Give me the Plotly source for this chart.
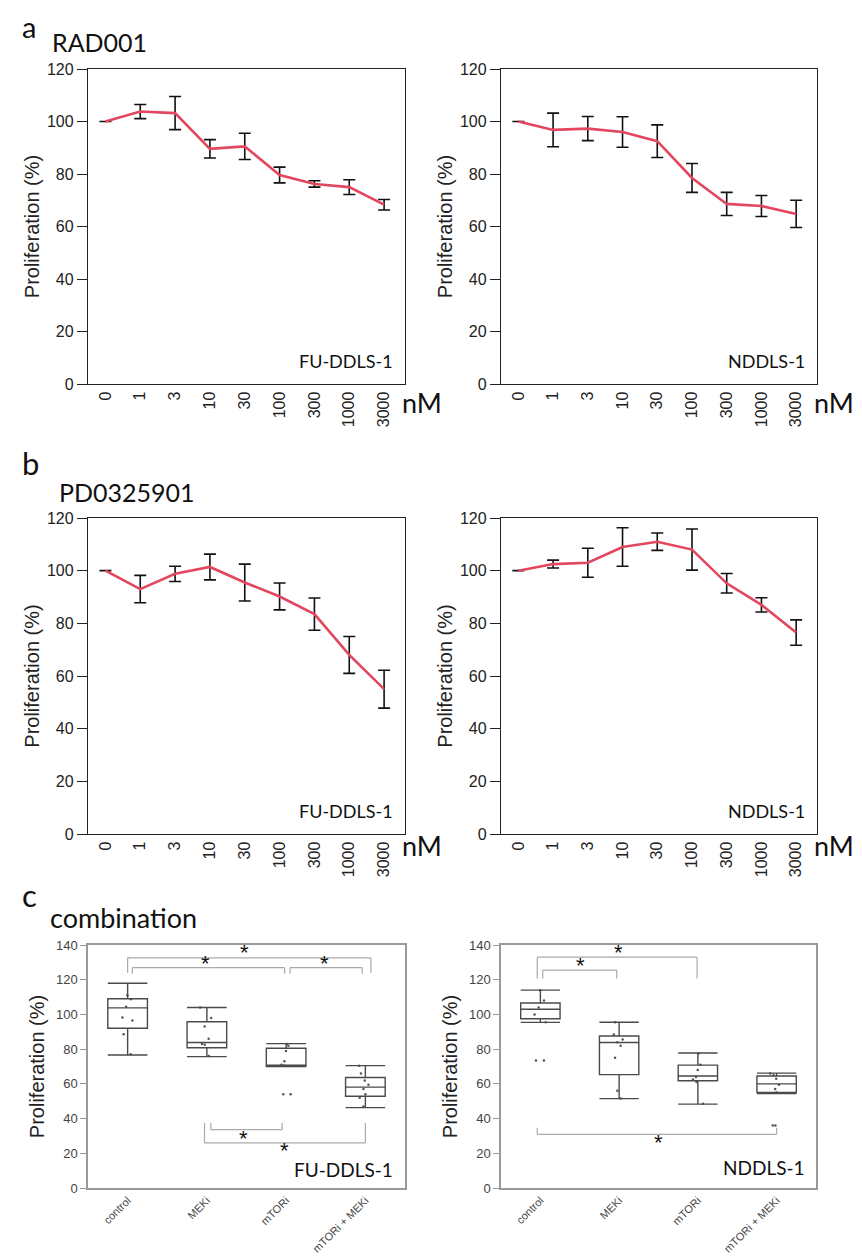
import plotly.graph_objects as go

# ---------------- data ----------------
doses = ["0", "1", "3", "10", "30", "100", "300", "1000", "3000"]

rad_fu_mean = [100, 103.8, 103.2, 89.6, 90.5, 79.6, 76.2, 75.0, 68.3]
rad_fu_err = [0, 2.7, 6.3, 3.5, 5.0, 3.0, 1.2, 2.8, 2.0]
rad_nd_mean = [100, 96.8, 97.3, 96.0, 92.5, 78.5, 68.6, 67.8, 64.8]
rad_nd_err = [0, 6.4, 4.6, 5.8, 6.2, 5.5, 4.4, 4.0, 5.2]

pd_fu_mean = [100, 93.0, 98.8, 101.4, 95.5, 90.2, 83.5, 68.0, 55.0]
pd_fu_err = [0, 5.2, 2.9, 4.9, 7.0, 5.1, 6.1, 7.0, 7.2]
pd_nd_mean = [100, 102.5, 103.0, 109.0, 111.0, 108.0, 95.2, 87.0, 76.5]
pd_nd_err = [0, 1.5, 5.5, 7.3, 3.3, 7.8, 3.7, 2.7, 4.8]

groups = ["control", "MEKi", "mTORi", "mTORi + MEKi"]

# box statistics
fu_q1 = [92.0, 80.8, 69.9, 52.9]
fu_median = [103.8, 83.8, 70.7, 58.1]
fu_q3 = [109.0, 95.8, 80.5, 63.7]
fu_low = [76.6, 75.7, 69.9, 46.3]
fu_high = [118.0, 104.0, 83.2, 70.5]

nd_q1 = [97.5, 65.3, 61.8, 55.0]
nd_median = [103.0, 83.8, 64.5, 60.0]
nd_q3 = [106.6, 87.6, 70.8, 64.5]
nd_low = [95.4, 51.5, 48.3, 54.4]
nd_high = [114.0, 95.5, 77.8, 66.2]

# individual replicate values
fu_points = [
    [111, 108.7, 104.4, 98.3, 96.5, 88.6, 77],
    [104, 98, 93, 86, 83, 82.5, 76],
    [83, 82, 79, 73, 71, 70.5, 54, 54],
    [70.5, 66, 62, 59.5, 57, 54, 52, 47],
]
nd_points = [
    [114, 108, 104, 100, 95.5, 73.5, 73.5],
    [95.5, 88.5, 85.5, 84, 82, 75, 56, 51.5],
    [77.5, 71, 68, 64, 62.5, 61, 48.5],
    [66, 65, 63, 59.5, 57, 55, 36, 36],
]

# significance brackets: (left group, right group, bar level, leg end, star x, star level)
fu_brackets = [
    (0.0, 3.07, 132.6, 124.0, 1.48, 135.5),
    (0.06, 1.98, 127.0, 123.5, 0.98, 129.5),
    (2.05, 2.96, 127.0, 123.5, 2.48, 129.5),
    (1.05, 1.95, 33.6, 37.5, 1.46, 28.5),
    (0.97, 3.0, 26.0, 37.5, 1.98, 21.5),
]
nd_brackets = [
    (0.03, 0.97, 125.5, 120.7, 0.51, 128.0),
    (-0.04, 1.99, 133.0, 120.7, 0.99, 135.5),
    (-0.04, 3.0, 30.9, 34.7, 1.5, 26.0),
]

# ---------------- layout helpers ----------------
W, H = 862, 1258


def fx(p):
    return p / W


def fy(p):
    return 1 - p / H


RED = "#e2475f"
SANS = "Liberation Sans, Arial"
TICKFONT = dict(family=SANS, size=16, color="#222")
LABELFONT = "Lato, Open Sans, sans-serif"

fig = go.Figure()

line_panels = [
    ("x", "y", rad_fu_mean, rad_fu_err),
    ("x2", "y2", rad_nd_mean, rad_nd_err),
    ("x3", "y3", pd_fu_mean, pd_fu_err),
    ("x4", "y4", pd_nd_mean, pd_nd_err),
]
for xa, ya, m, e in line_panels:
    fig.add_trace(go.Scatter(
        x=doses, y=m, mode="lines", xaxis=xa, yaxis=ya,
        line=dict(color=RED, width=2.6),
        error_y=dict(type="data", array=e, visible=True, color="#111",
                     thickness=1.6, width=6),
        showlegend=False))

# combination box plots
for xa, ya, q1, med, q3, lo, hi, pts in [
    ("x5", "y5", fu_q1, fu_median, fu_q3, fu_low, fu_high, fu_points),
    ("x6", "y6", nd_q1, nd_median, nd_q3, nd_low, nd_high, nd_points),
]:
    xs = []
    ys = []
    for i, p in enumerate(pts):
        xs += [i] * len(p)
        ys += p
    fig.add_trace(go.Box(
        x=xs, y=ys, xaxis=xa, yaxis=ya, boxpoints="all", jitter=0.35,
        pointpos=0, width=0.5, fillcolor="rgba(0,0,0,0)",
        line=dict(width=0, color="rgba(0,0,0,0)"),
        marker=dict(size=2.5, color="#555"), showlegend=False))
    fig.add_trace(go.Box(
        x=list(range(len(groups))), q1=q1, median=med, q3=q3,
        lowerfence=lo, upperfence=hi, xaxis=xa, yaxis=ya, width=0.5,
        whiskerwidth=1, fillcolor="rgba(0,0,0,0)",
        line=dict(color="#4a4a4a", width=1.4), showlegend=False))

# ---------------- axes ----------------
dom_x_left = [fx(80), fx(397)]
dom_x_right = [fx(493), fx(809)]
dom_a = [fy(376), fy(61)]
dom_b = [fy(826), fy(510)]
dom_c = [fy(1180), fy(937)]

yaxis_common = dict(range=[0, 120], dtick=20, ticks="outside", ticklen=10,
                    tickcolor="#222", tickwidth=1.2, showline=True,
                    linecolor="#222", linewidth=1.4, mirror=True,
                    showgrid=False, zeroline=False, tickfont=TICKFONT,
                    automargin=False,
                    title=dict(text="Proliferation (%)",
                               font=dict(family=SANS, size=20, color="#222"),
                               standoff=1))
xaxis_common = dict(type="category", range=[-0.5, 8.6], tickangle=-90,
                    ticks="", showline=True, linecolor="#222", linewidth=1.4,
                    mirror=True, showgrid=False, zeroline=False,
                    tickfont=TICKFONT, automargin=False)

layout = dict(
    width=W, height=H, margin=dict(l=0, r=0, t=0, b=0, autoexpand=False),
    paper_bgcolor="white", plot_bgcolor="white", showlegend=False,
    boxmode="overlay",
)
layout["xaxis"] = dict(xaxis_common, domain=dom_x_left, anchor="y")
layout["yaxis"] = dict(yaxis_common, domain=dom_a, anchor="x")
layout["xaxis2"] = dict(xaxis_common, domain=dom_x_right, anchor="y2")
layout["yaxis2"] = dict(yaxis_common, domain=dom_a, anchor="x2")
layout["xaxis3"] = dict(xaxis_common, domain=dom_x_left, anchor="y3")
layout["yaxis3"] = dict(yaxis_common, domain=dom_b, anchor="x3")
layout["xaxis4"] = dict(xaxis_common, domain=dom_x_right, anchor="y4")
layout["yaxis4"] = dict(yaxis_common, domain=dom_b, anchor="x4")

cx = dict(range=[-0.5, 3.5], tickvals=list(range(len(groups))),
          ticktext=groups, tickangle=-45, ticks="", showline=True,
          linecolor="#999", linewidth=1.5, mirror=True, showgrid=False,
          zeroline=False, automargin=False,
          tickfont=dict(family=SANS, size=11, color="#444"))
cy = dict(range=[0, 140], dtick=20, ticks="outside", ticklen=6,
          tickcolor="#999", showline=True, linecolor="#999", linewidth=1.5,
          mirror=True, showgrid=False, zeroline=False, automargin=False,
          tickfont=dict(family=SANS, size=13, color="#444"),
          title=dict(text="Proliferation (%)",
                     font=dict(family=SANS, size=20, color="#222"),
                     standoff=6))
layout["xaxis5"] = dict(cx, domain=dom_x_left, anchor="y5")
layout["yaxis5"] = dict(cy, domain=dom_c, anchor="x5")
layout["xaxis6"] = dict(cx, domain=[fx(493), fx(808)], anchor="y6")
layout["yaxis6"] = dict(cy, domain=dom_c, anchor="x6")

fig.update_layout(**layout)

# ---------------- text annotations ----------------
ann = []


def txt(t, x, y, size, xanchor="left", yanchor="middle", color="#111"):
    ann.append(dict(text=t, x=fx(x), y=fy(y), xref="paper", yref="paper",
                    xanchor=xanchor, yanchor=yanchor, showarrow=False,
                    font=dict(family=LABELFONT, size=size, color=color)))


txt("a", 12, 18, 29)
txt("RAD001", 42, 34, 25)
txt("b", 12, 455, 31)
txt("PD0325901", 49, 484, 25)
txt("c", 12, 887, 31)
txt("combination", 40, 909, 27)
for x0 in (392, 804):
    txt("nM", x0, 395, 27)
    txt("nM", x0, 837, 27)
txt("FU-DDLS-1", 387, 353, 18, xanchor="right")
txt("NDDLS-1", 799, 353, 18, xanchor="right")
txt("FU-DDLS-1", 387, 826 - 23, 18, xanchor="right")
txt("NDDLS-1", 799, 826 - 23, 18, xanchor="right")
txt("FU-DDLS-1", 387, 1161, 19, xanchor="right")
txt("NDDLS-1", 799, 1159, 19, xanchor="right")

shapes = []
for xa, ya, br in [("x5", "y5", fu_brackets), ("x6", "y6", nd_brackets)]:
    for (x0, x1, yb, yl, sx, sy) in br:
        style = dict(color="#aaa", width=1.2)
        shapes.append(dict(type="line", xref=xa, yref=ya, x0=x0, x1=x1,
                           y0=yb, y1=yb, line=style))
        shapes.append(dict(type="line", xref=xa, yref=ya, x0=x0, x1=x0,
                           y0=yb, y1=yl, line=style))
        shapes.append(dict(type="line", xref=xa, yref=ya, x0=x1, x1=x1,
                           y0=yb, y1=yl, line=style))
        ann.append(dict(text="*", x=sx, y=sy, xref=xa, yref=ya,
                        showarrow=False, yanchor="middle", yshift=0,
                        font=dict(family=SANS, size=22, color="#111")))

fig.update_layout(annotations=ann, shapes=shapes)

fig.write_html("out.html")
